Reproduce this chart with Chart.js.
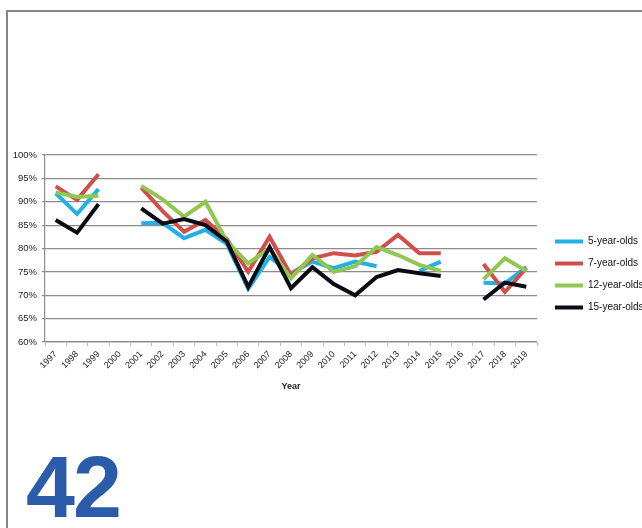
<!DOCTYPE html>
<html>
<head>
<meta charset="utf-8">
<script src="https://cdn.jsdelivr.net/npm/chart.js@4"></script>
<style>
  html, body { margin: 0; padding: 0; background: #fff; }
  body { width: 642px; height: 528px; position: relative; overflow: hidden; font-family: "Liberation Sans", sans-serif; }
  .frame { position: absolute; left: 6px; top: 10px; right: -10px; bottom: -10px; border-top: 2px solid #858585; border-left: 2px solid #858585; }
  .wrap { position: absolute; left: 0; top: 140px; width: 642px; height: 260px; }
  .page-no { position: absolute; left: 26px; top: 443px; font: bold 88px/88px "Liberation Sans", sans-serif; color: #2a5caa; letter-spacing: -2px; }
</style>
</head>
<body>
<div class="frame"></div>
<div class="wrap"><canvas id="chart" width="642" height="260"></canvas></div>
<div class="page-no">42</div>
<script>
// Years on the x axis
const years = ['1997', '1998', '1999', '2000', '2001', '2002', '2003', '2004', '2005', '2006', '2007', '2008',
  '2009', '2010', '2011', '2012', '2013', '2014', '2015', '2016', '2017', '2018', '2019'];

// Percentages per age group (null = no survey that year)
const fiveYear = [91.8, 87.4, 92.7, null, 85.4, 85.5, 82.2, 84.0, 81.0, 71.4, 78.2, 74.7, 77.2, 75.8, 77.2, 76.2, null, 75.2, 77.2, null, 72.7, 72.5, 76.0];
const sevenYear = [93.3, 90.4, 95.9, null, 93.0, 88.0, 83.6, 86.1, 82.0, 75.0, 82.5, 74.3, 77.9, 79.0, 78.5, 79.3, 82.9, 79.0, 79.0, null, 76.7, 70.7, 75.8];
const twelveYear = [92.0, 91.0, 91.3, null, 93.4, 90.5, 86.8, 90.0, 81.5, 76.8, 80.0, 73.6, 78.6, 75.0, 76.2, 80.3, 78.6, 76.5, 75.2, null, 73.4, 77.9, 75.2];
const fifteenYear = [86.1, 83.4, 89.5, null, 88.6, 85.3, 86.3, 85.0, 81.5, 71.8, 80.3, 71.5, 76.0, 72.4, 70.0, 73.9, 75.4, 74.7, 74.1, null, 69.1, 72.7, 71.8];

const seriesNames = ['5-year-olds', '7-year-olds', '12-year-olds', '15-year-olds'];
const seriesColors = ['#22b1e6', '#d14f4a', '#8fc750', '#0b0b14'];

function makeSet(i, values) {
  return {
    label: seriesNames[i],
    data: values,
    borderColor: seriesColors[i],
    backgroundColor: seriesColors[i],
    borderWidth: 4,
    pointRadius: 0,
    pointStyle: 'line',
    tension: 0,
    spanGaps: false,
    order: 3 - i // black drawn on top
  };
}

// shift legend a little right and up, like the original
const legendNudge = {
  id: 'legendNudge',
  beforeInit(chart) {
    const fit = chart.legend.fit;
    chart.legend.fit = function () {
      fit.call(this);
      this.width = 105;
    };
  },
  afterLayout(chart) {
    const lg = chart.legend;
    lg.left += 6; lg.right += 6;
    lg.top -= 3; lg.bottom -= 3;
  }
};

const ctx = document.getElementById('chart').getContext('2d');
new Chart(ctx, {
  type: 'line',
  data: {
    labels: years,
    datasets: [
      makeSet(0, fiveYear),
      makeSet(1, sevenYear),
      makeSet(2, twelveYear),
      makeSet(3, fifteenYear)
    ]
  },
  options: {
    responsive: false,
    animation: false,
    layout: { padding: { top: 15, right: 0, bottom: 0, left: 0 } },
    plugins: {
      legend: {
        position: 'right',
        labels: {
          usePointStyle: true,
          pointStyle: 'line',
          pointStyleWidth: 28,
          padding: 12,
          color: '#111',
          font: { family: 'Liberation Sans', size: 10 },
          sort: (a, b) => a.datasetIndex - b.datasetIndex
        }
      },
      tooltip: { enabled: false }
    },
    scales: {
      y: {
        min: 60,
        max: 100,
        afterFit(scale) { scale.width = 45; },
        ticks: {
          stepSize: 5,
          color: '#222',
          font: { family: 'Liberation Sans', size: 9.5 },
          padding: 5,
          callback: v => v + '%'
        },
        grid: { color: '#8c8c8c', lineWidth: 1.2, tickLength: 3 },
        border: { color: '#8c8c8c', width: 1.2 }
      },
      x: {
        offset: true,
        afterFit(scale) { scale.height = 58; },
        title: {
          display: true,
          text: 'Year',
          color: '#222',
          font: { family: 'Liberation Sans', size: 9, weight: 'bold' },
          padding: { top: 0, bottom: 8 }
        },
        ticks: {
          color: '#222',
          font: { family: 'Liberation Sans', size: 9 },
          minRotation: 45,
          maxRotation: 45,
          autoSkip: false,
          padding: 3
        },
        grid: { offset: true, drawOnChartArea: false, drawTicks: true, tickLength: 4, color: '#bdbdbd' },
        border: { color: '#c8c8c8', width: 1 }
      }
    }
  },
  plugins: [legendNudge]
});
</script>
</body>
</html>
